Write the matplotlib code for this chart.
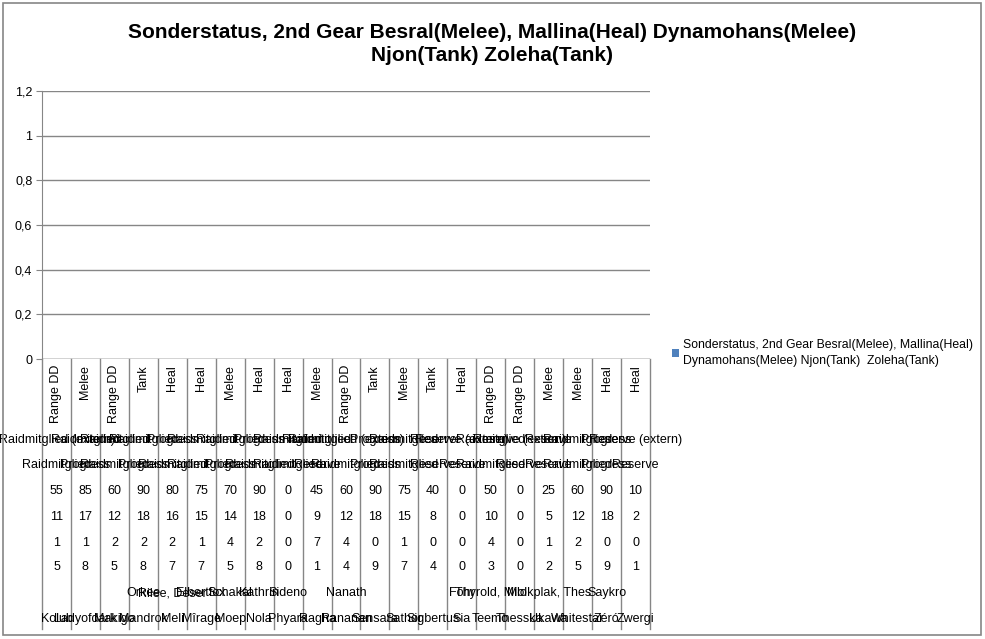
import matplotlib
matplotlib.use("Agg")
import matplotlib.pyplot as plt
import matplotlib.transforms as mtransforms
from matplotlib.patches import Rectangle
from matplotlib.ticker import FuncFormatter

plt.rcParams['font.family'] = ['Liberation Sans', 'DejaVu Sans']

title = "Sonderstatus, 2nd Gear Besral(Melee), Mallina(Heal) Dynamohans(Melee)\nNjon(Tank) Zoleha(Tank)"
series_name = "Sonderstatus, 2nd Gear Besral(Melee), Mallina(Heal)\nDynamohans(Melee) Njon(Tank)  Zoleha(Tank)"

roles = ["Range DD", "Melee", "Range DD", "Tank", "Heal", "Heal", "Melee", "Heal", "Heal",
         "Melee", "Range DD", "Tank", "Melee", "Tank", "Heal", "Range DD", "Range DD",
         "Melee", "Melee", "Heal", "Heal"]
rank = ["Raidmitglied (extern)", "Raidmitglied", "Raidmitglied", "Raidmitglied", "Progress",
        "Raidmitglied", "Raidmitglied", "Progress", "Raidmitglied", "Raidmitglied",
        "Raidmitglied (extern)", "Progress", "Raidmitglied", "Reserve", "Reserve (extern)",
        "Raidmitglied", "Reserve (extern)", "Reserve", "Raidmitglied", "Progress",
        "Reserve (extern)"]
status = ["Raidmitglied", "Progress", "Raidmitglied", "Progress", "Raidmitglied",
          "Raidmitglied", "Progress", "Raidmitglied", "Raidmitglied", "Reserve",
          "Raidmitglied", "Progress", "Raidmitglied", "Reserve", "Reserve",
          "Raidmitglied", "Reserve", "Reserve", "Raidmitglied", "Progress", "Reserve"]
score = [55, 85, 60, 90, 80, 75, 70, 90, 0, 45, 60, 90, 75, 40, 0, 50, 0, 25, 60, 90, 10]
raids = [11, 17, 12, 18, 16, 15, 14, 18, 0, 9, 12, 18, 15, 8, 0, 10, 0, 5, 12, 18, 2]
missed = [1, 1, 2, 2, 2, 1, 4, 2, 0, 7, 4, 0, 1, 0, 0, 4, 0, 1, 2, 0, 0]
loot = [5, 8, 5, 8, 7, 7, 5, 8, 0, 1, 4, 9, 7, 4, 0, 3, 0, 2, 5, 9, 1]
twinks = ["", "", "", "Orkee", "Rilee, Deser", "Elbertfox", "Schakal", "Kathrin", "Sideno",
          "", "Nanath", "", "", "", "Föhr", "Thyrold, Milo", "", "Molkplak, Thes", "",
          "Saykro", ""]
names = ["Kolub", "Ladyofdark", "Makigo", "Mandrok", "Meli", "Mîrage", "Moep", "Nola",
         "Phyara", "Ragha", "Rananan", "Sensara", "Sathor", "Sigbertus", "Sia", "Teemo",
         "Thesska", "Ukawa", "Whitestar", "Zéró", "Zwergi"]
values = [0] * len(names)

W, H = 985, 639
fig = plt.figure(figsize=(W / 100, H / 100), dpi=100)

def fy(py):
    return 1 - py / H

x0, x1, ytop, ybot = 42, 650, 91, 359
ax = fig.add_axes([x0 / W, fy(ybot), (x1 - x0) / W, (ybot - ytop) / H])
n = len(names)
ax.bar([i + 0.5 for i in range(n)], values, width=0.6, color="#4F81BD", label=series_name)
ax.set_xlim(0, n)
ax.set_ylim(0, 1.2)
ax.set_yticks([0, 0.2, 0.4, 0.6, 0.8, 1.0, 1.2])
ax.yaxis.set_major_formatter(FuncFormatter(lambda v, p: ("%g" % round(v, 1)).replace(".", ",")))
ax.set_xticks([])
ax.grid(axis='y', color="#868686", linewidth=1)
ax.set_axisbelow(True)
for s in ["top", "right", "bottom"]:
    ax.spines[s].set_visible(False)
ax.spines["left"].set_color("#868686")
ax.tick_params(axis='y', direction='out', length=4, color="#868686", labelsize=9, pad=3)
ax.axhline(0, color="#868686", linewidth=1)

trans = mtransforms.blended_transform_factory(ax.transData, fig.transFigure)
for i in range(n + 1):
    ax.plot([i, i], [fy(ybot), fy(629)], transform=trans, color="#868686",
            linewidth=1, clip_on=False)

fs = 9
for i in range(n):
    cx = i + 0.5
    ax.text(cx, fy(365), roles[i], transform=trans, rotation=90, ha='center', va='top',
            fontsize=fs, clip_on=False)
    rows = [(440, rank[i]), (465, status[i]), (491, str(score[i])), (517, str(raids[i])),
            (543, str(missed[i])), (567, str(loot[i])), (593, twinks[i]), (619, names[i])]
    for py, txt in rows:
        if txt:
            ax.text(cx, fy(py), txt, transform=trans, ha='center', va='center',
                    fontsize=fs, clip_on=False)

fig.text(492 / W, fy(44), title, ha='center', va='center', fontsize=15,
         fontweight='bold', linespacing=1.25)

leg = fig.legend(loc='upper left', bbox_to_anchor=(672 / W, fy(339)), frameon=False,
                 fontsize=8.8, handlelength=0.6, handleheight=0.6, handletextpad=0.3,
                 borderaxespad=0, borderpad=0)
for t in leg.get_texts():
    t.set_linespacing(1.45)

fig.patches.append(Rectangle((3 / W, fy(635)), (981 - 3) / W, (635 - 3) / H,
                             transform=fig.transFigure, fill=False, edgecolor="#868686",
                             linewidth=1.2))

fig.savefig("out.png", dpi=100)
